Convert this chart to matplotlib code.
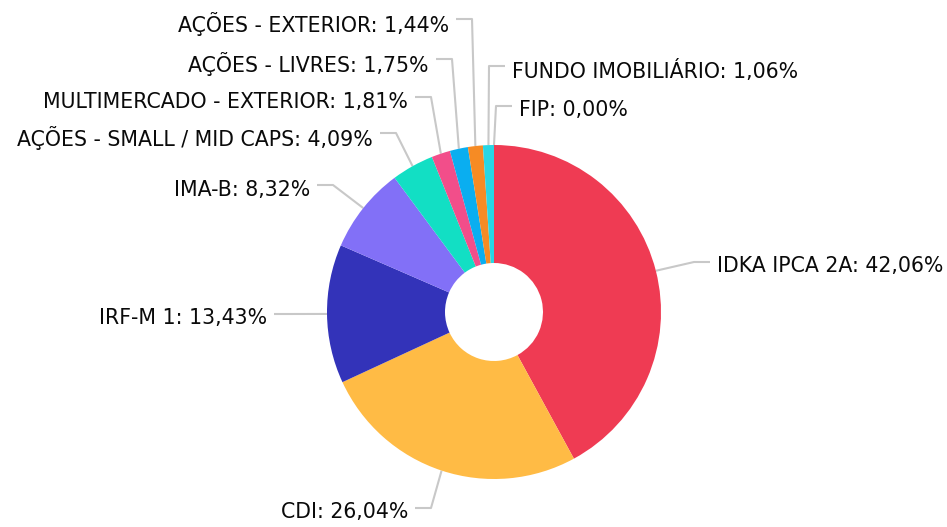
import numpy as np
import matplotlib.pyplot as plt

labels = ["IDKA IPCA 2A", "CDI", "IRF-M 1", "IMA-B", "AÇÕES - SMALL / MID CAPS",
          "MULTIMERCADO - EXTERIOR", "AÇÕES - LIVRES", "AÇÕES - EXTERIOR",
          "FUNDO IMOBILIÁRIO", "FIP"]
values = [42.06, 26.04, 13.43, 8.32, 4.09, 1.81, 1.75, 1.44, 1.06, 0.00]
colors = ["#EF3B53", "#FFBB45", "#3333B9", "#8270F7", "#12DFC4",
          "#F24E8A", "#0AAEF0", "#F68B24", "#28D6E4", "#999999"]

# leader line elbows (pixel coords) and label side
elbows = [(694, 262, 1), (431, 508, -1), (290, 314, -1), (333, 185, -1),
          (396, 133, -1), (431, 97, -1), (452, 59, -1), (472, 19, -1),
          (489, 66, 1), (496, 106, 1)]


def main():
    fig = plt.figure(figsize=(9.47, 5.27), dpi=100)
    ax = fig.add_axes([0, 0, 1, 1])
    cx, cy, r_out, r_in = 494, 312, 167, 49

    ax.pie(values, colors=colors, center=(cx, cy), radius=r_out,
           startangle=-90, counterclock=True,
           wedgeprops=dict(width=r_out - r_in, linewidth=0))

    total = sum(values)
    cum = 0
    for lab, v, (ex, ey, side) in zip(labels, values, elbows):
        theta = np.deg2rad((cum + v / 2) / total * 360)
        cum += v
        sx = cx + r_out * np.sin(theta)
        sy = cy - r_out * np.cos(theta)
        endx = ex + 16 * side
        ax.plot([sx, ex, endx], [sy, ey, ey], color="#C8C8C8", lw=1.5,
                solid_capstyle="butt", zorder=0)
        txt = f"{lab}: {v:.2f}%".replace(".", ",")
        ax.text(endx + 7 * side, ey + 4.5, txt, ha="left" if side > 0 else "right",
                va="center", fontsize=14.8, family="DejaVu Sans", color="#0A0A0A")

    ax.set_xlim(0, 947)
    ax.set_ylim(527, 0)
    ax.set_aspect("equal")
    ax.axis("off")
    fig.savefig("out.png", dpi=100)


if __name__ == "__main__":
    main()
